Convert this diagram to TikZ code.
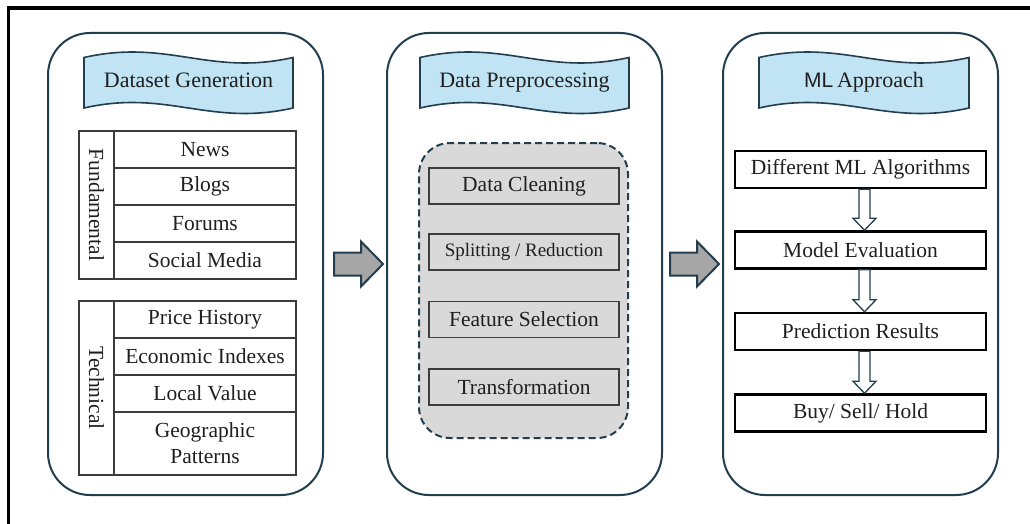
\documentclass[tikz,border=0pt]{standalone}
\usepackage{fontspec}
\setmainfont{Liberation Serif}
\newfontfamily\mlsans{Liberation Sans}
\usetikzlibrary{calc}
\definecolor{panelline}{RGB}{35,62,78}
\definecolor{bannerblue}{RGB}{192,228,244}
\definecolor{boxgray}{RGB}{217,217,217}
\definecolor{arrowgray}{RGB}{166,166,166}
\definecolor{cellline}{RGB}{60,60,60}
\newcommand\wavebanner[2]{%
  \draw[banner] (#1,57.5) .. controls ({#1+0.4*(#2-#1)},38.5) and ({#1+0.6*(#2-#1)},76.5) .. (#2,57.5)
    -- (#2,108) .. controls ({#1+0.6*(#2-#1)},127) and ({#1+0.4*(#2-#1)},89) .. (#1,108) -- cycle;}
\newcommand\hollowdown[2]{%
  \coordinate (hs) at ($(#1.south)+(4,0)$);
  \coordinate (ht) at ($(#2.north)+(4,0)$);
  \draw[hollowarr] ($(hs)+(-5.5,0)$) -- ($(ht)+(-5.5,-12)$) -- ($(ht)+(-11.5,-12)$) -- (ht)
    -- ($(ht)+(11.5,-12)$) -- ($(ht)+(5.5,-12)$) -- ($(hs)+(5.5,0)$) -- cycle;}
\tikzset{
  panel/.style={draw=panelline, line width=2pt, rounded corners=42pt, fill=white,
    minimum width=275pt, minimum height=462pt, inner sep=0pt},
  banner/.style={draw=panelline, line width=1.6pt, fill=bannerblue},
  btext/.style={font=\fontsize{22}{26}\selectfont, text=black!88, inner sep=0pt, anchor=base},
  cell/.style={draw=cellline, line width=1.3pt, minimum width=182pt, minimum height=37pt,
    inner sep=0pt, font=\fontsize{21.5}{26}\selectfont, text=black!88, align=center},
  labelcell/.style={draw=cellline, line width=1.3pt, minimum width=35pt, inner sep=0pt,
    font=\fontsize{21.5}{26}\selectfont, text=black!88},
  dbox/.style={draw=panelline, line width=2pt, dash pattern=on 7pt off 4pt, fill=boxgray,
    rounded corners=31pt, minimum width=209pt, minimum height=295pt, inner sep=0pt},
  prebox/.style={draw=cellline, line width=1.4pt, fill=boxgray, minimum width=190pt,
    minimum height=36pt, inner sep=0pt, font=\fontsize{21.5}{26}\selectfont, text=black!88},
  mlbox/.style={draw=black, line width=2.5pt, fill=white, minimum width=251pt,
    minimum height=37pt, inner sep=0pt, font=\fontsize{21.5}{26}\selectfont, text=black!88},
  bigarrow/.style={draw=panelline, line width=2pt, fill=arrowgray, line join=miter},
  hollowarr/.style={draw=panelline, line width=1.3pt, fill=white, line join=miter}
}
\begin{document}
\begin{tikzpicture}[x=1pt,y=-1pt]
\useasboundingbox (0,0) rectangle (1030,524);
\fill[white] (0,0) rectangle (1030,524);
% outer frame (left and top visible)
\draw[line width=3.5pt, line join=miter] (8.5,530) -- (8.5,8) -- (1040,8);

% panels
\node[panel] (p1) at (185.5,264) {};
\node[panel] (p2) at (524.5,264) {};
\node[panel] (p3) at (860.5,264) {};

% banners
\wavebanner{84}{293}
\wavebanner{420}{629}
\wavebanner{759}{969}
\node[btext] (b1) at (188.5,87.5) {Dataset Generation};
\node[btext] (b2) at (524.5,87.5) {Data Preprocessing};
\node[btext] (b3) at (864,88) {{\mlsans\fontsize{21}{26}\selectfont ML}\,Approach};

% Fundamental table
\node[labelcell, minimum height=148pt] (fl) at (96.5,205) {};
\node[rotate=-90, font=\fontsize{21.5}{26}\selectfont, text=black!88] (flt) at (96.5,205) {Fundamental};
\node[cell] (f1) at (205,149.5) {News};
\node[cell] (f2) at (205,186.5) {Blogs};
\node[cell] (f3) at (205,223.5) {Forums};
\node[cell] (f4) at (205,260.5) {Social Media};

% Technical table
\node[labelcell, minimum height=174pt] (tl) at (96.5,388) {};
\node[rotate=-90, font=\fontsize{21.5}{26}\selectfont, text=black!88] (tlt) at (96.5,388) {Technical};
\node[cell] (t1) at (205,319.5) {Price History};
\node[cell] (t2) at (205,356.5) {Economic Indexes};
\node[cell] (t3) at (205,393.5) {Local Value};
\node[cell, minimum height=63pt] (t4) at (205,443.5) {Geographic\\Patterns};

% Preprocessing
\node[dbox] (dg) at (523.5,290.5) {};
\node[prebox] (d1) at (524,186) {Data Cleaning};
\node[prebox, font=\fontsize{19}{22}\selectfont] (d2) at (524,252) {Splitting / Reduction};
\node[prebox] (d3) at (524,319.5) {Feature Selection};
\node[prebox] (d4) at (524,387) {Transformation};

% ML approach
\node[mlbox] (m1) at (860.5,169.5) {Different ML Algorithms};
\node[mlbox] (m2) at (860.5,250) {Model Evaluation};
\node[mlbox] (m3) at (860.5,331.5) {Prediction Results};
\node[mlbox] (m4) at (860.5,413) {Buy/ Sell/ Hold};
\hollowdown{m1}{m2}
\hollowdown{m2}{m3}
\hollowdown{m3}{m4}

% big arrows between panels
\draw[bigarrow] ($(p1.east)+(10,-11.5)$) -- ++(27,0) -- ++(0,-11) -- ++(22,22.5) -- ++(-22,22.5)
  -- ++(0,-11) -- ++(-27,0) -- cycle;
\draw[bigarrow] ($(p2.east)+(7,-11.5)$) -- ++(27,0) -- ++(0,-11) -- ++(22,22.5) -- ++(-22,22.5)
  -- ++(0,-11) -- ++(-27,0) -- cycle;
\end{tikzpicture}
\end{document}
